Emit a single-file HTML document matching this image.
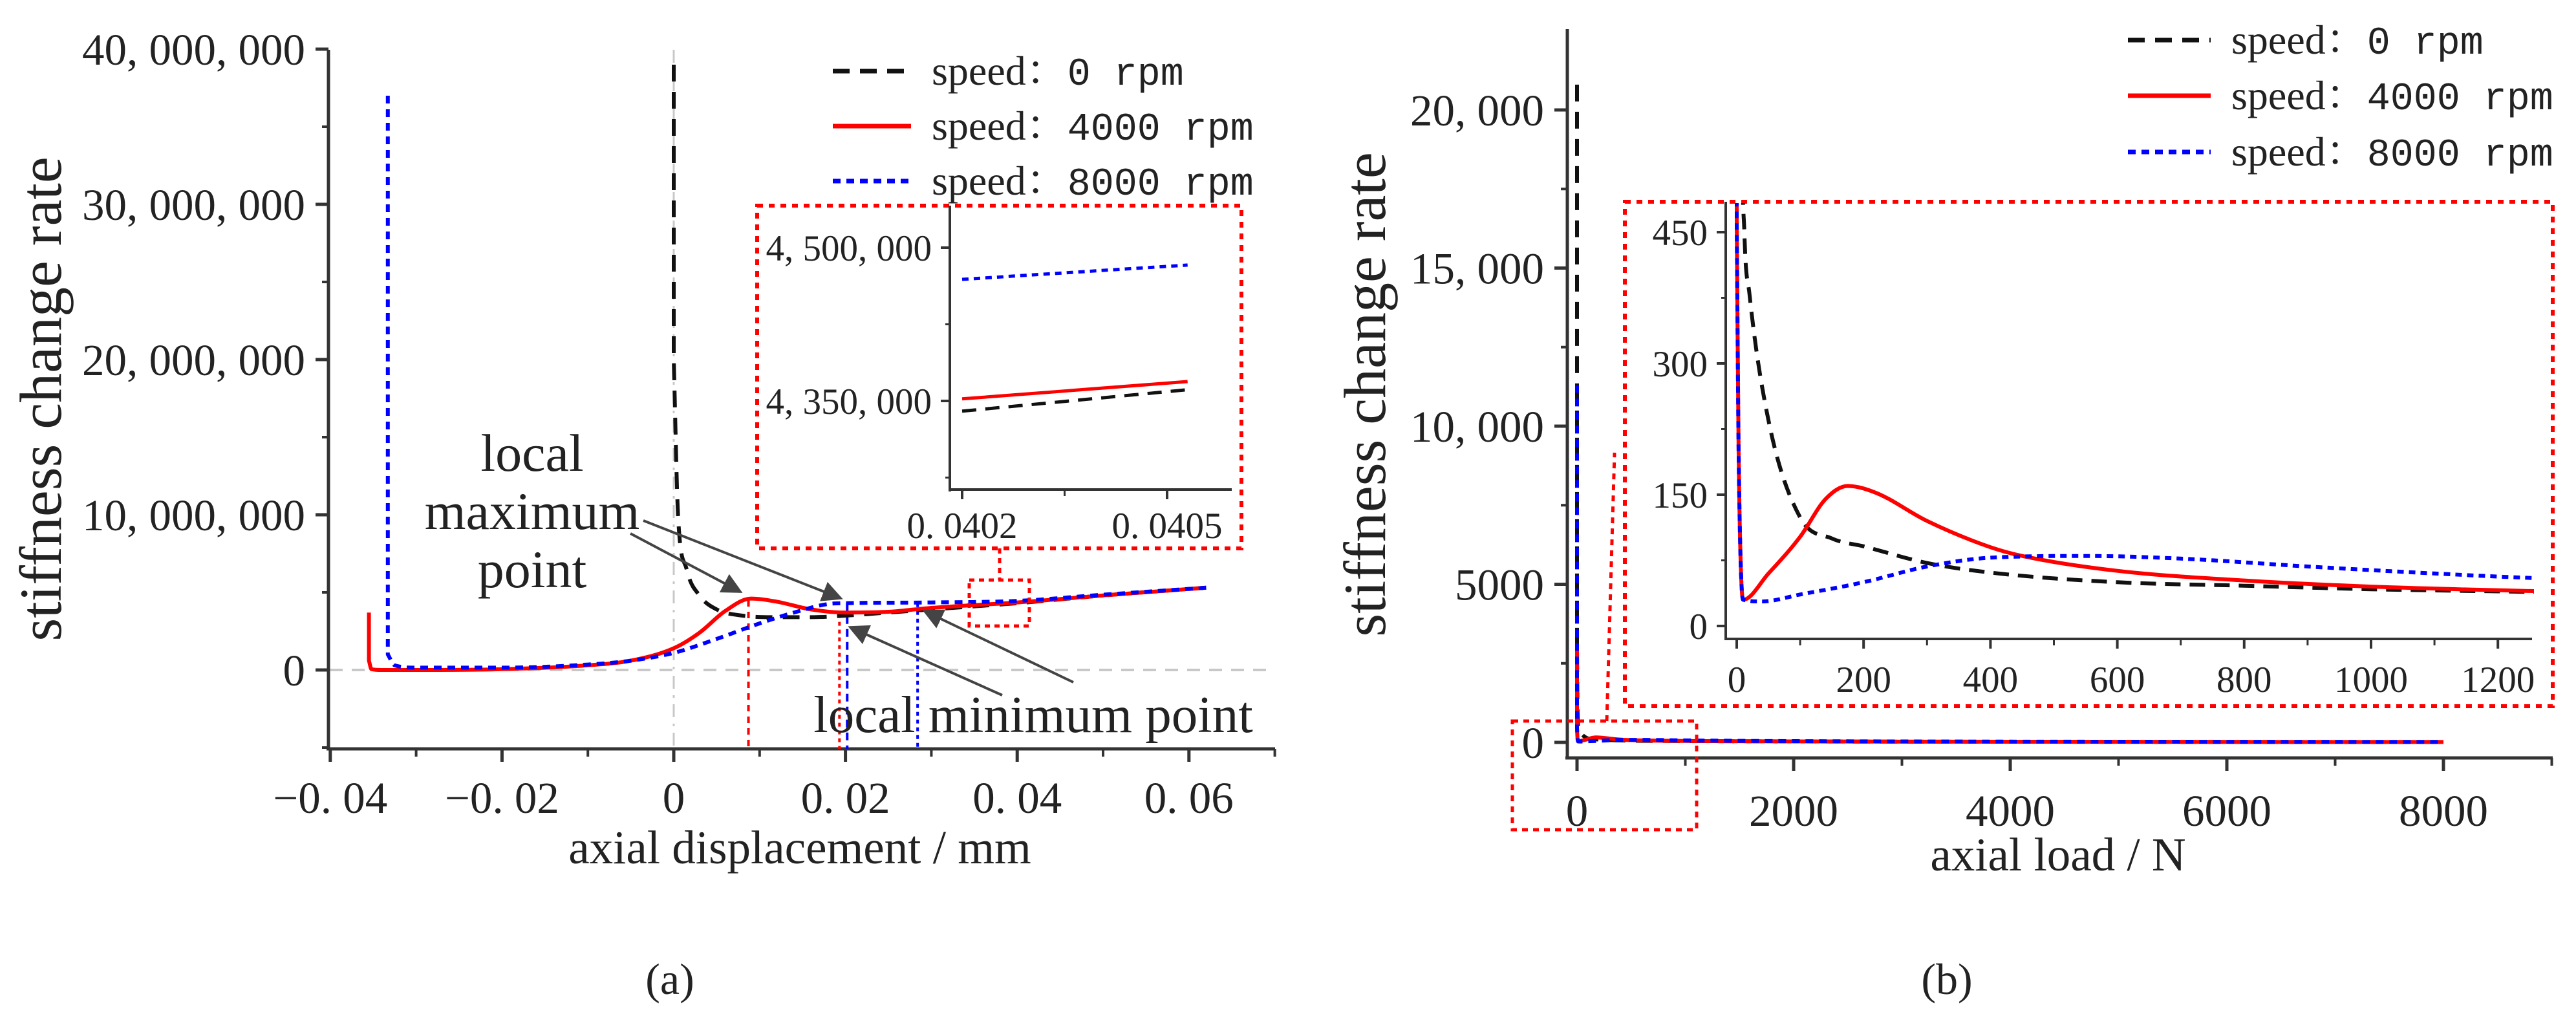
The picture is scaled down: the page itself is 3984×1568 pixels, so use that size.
<!DOCTYPE html>
<html><head><meta charset="utf-8">
<style>
html,body{margin:0;padding:0;background:#fff;}
svg{display:block;}
text{font-family:"Liberation Serif","Noto Serif CJK SC",serif;fill:#222;}
.mono{font-family:"Liberation Mono","Noto Sans CJK SC",monospace;}
</style></head>
<body>
<svg id="fig" width="3984" height="1568" viewBox="0 0 3984 1568" xmlns="http://www.w3.org/2000/svg">
<defs>
<clipPath id="clipAi"><rect x="1469" y="318" width="436" height="440"/></clipPath>
<clipPath id="clipBi"><rect x="2669" y="314" width="1250" height="676"/></clipPath>
<marker id="arr" markerWidth="8" markerHeight="8" refX="7" refY="4" orient="auto" markerUnits="strokeWidth">
<path d="M0,0 L8,4 L0,8 z" fill="#444"/></marker>
</defs>
<g id="gA"></g>
<g id="gB"></g>
</svg>
<script>
// ---- chart (a) data ----
const aBlackX=[0,0,0.0005,0.0015,0.003,0.005,0.008,0.012,0.016,0.02,0.025,0.03,0.035,0.04,0.05,0.062];
const aBlackY=[39e6,20e6,10e6,6.5e6,4.8e6,3.9e6,3.5e6,3.4e6,3.4e6,3.5e6,3.7e6,3.9e6,4.1e6,4.3e6,4.8e6,5.3e6];
const aRedX=[-0.0355,-0.0355,-0.0352,-0.034,-0.03,-0.02,-0.01,-0.005,0,0.003,0.006,0.009,0.012,0.016,0.02,0.025,0.03,0.04,0.05,0.062];
const aRedY=[3.7e6,0.6e6,0.05e6,0,0,0.05e6,0.3e6,0.6e6,1.4e6,2.4e6,3.8e6,4.6e6,4.4e6,3.9e6,3.7e6,3.75e6,4.0e6,4.35e6,4.8e6,5.3e6];
const aBlueX=[-0.0333,-0.0333,-0.0325,-0.03,-0.02,-0.01,-0.005,0,0.005,0.01,0.014,0.018,0.02,0.03,0.04,0.05,0.062];
const aBlueY=[37e6,1.0e6,0.3e6,0.15e6,0.15e6,0.35e6,0.6e6,1.1e6,2.0e6,3.0e6,3.7e6,4.25e6,4.3e6,4.35e6,4.45e6,4.85e6,5.3e6];
const aYTicks=[0,10e6,20e6,30e6,40e6];
const aYLabels=["0","10, 000, 000","20, 000, 000","30, 000, 000","40, 000, 000"];
const aXTicks=[-0.04,-0.02,0,0.02,0.04,0.06];
const aXLabels=["−0. 04","−0. 02","0","0. 02","0. 04","0. 06"];
// inset (a)
const aiX=[0.0402,0.04053];
const aiBlack=[4.340e6,4.361e6];
const aiRed=[4.352e6,4.369e6];
const aiBlue=[4.469e6,4.483e6];
const aiYTicks=[4.35e6,4.5e6];
const aiYLabels=["4, 350, 000","4, 500, 000"];
const aiXTicks=[0.0402,0.0405];
const aiXLabels=["0. 0402","0. 0405"];
// markers of local extrema
const aMarkX=[0.0087,0.0193,0.0202,0.0284];
const aMarkY=[4.5e6,3.6e6,4.3e6,4.3e6];
// ---- chart (b) data ----
const bBlackX=[0,0,3,8,12,20,50,100,150,200,300,400,600,800,1000,1250,2000,4000,6000,8000];
const bBlackY=[20800,3000,1500,600,450,380,235,124,100,91,72,61,50,46,42,39,30,20,15,12];
const bRedX=[0,0,3,10,50,100,140,175,220,300,400,450,600,800,1000,1250,2000,4000,8000];
const bRedY=[3000,460,200,30,60,102,145,160,152,120,90,80,63,52,45,40,30,20,12];
const bBlueX=[0,0,3,10,40,100,200,300,400,550,700,900,1100,1250,2000,4000,8000];
const bBlueY=[11300,460,200,30,28,36,50,68,78,80,77,68,60,55,40,25,15];
const bYTicks=[0,5000,10000,15000,20000];
const bYLabels=["0","5000","10, 000","15, 000","20, 000"];
const bXTicks=[0,2000,4000,6000,8000];
const bXLabels=["0","2000","4000","6000","8000"];
const biYTicks=[0,150,300,450];
const biYLabels=["0","150","300","450"];
const biXTicks=[0,200,400,600,800,1000,1200];
const biXLabels=["0","200","400","600","800","1000","1200"];

const NS="http://www.w3.org/2000/svg";
function mk(parent,tag,attrs,txt){const e=document.createElementNS(NS,tag);for(const k in attrs)e.setAttribute(k,attrs[k]);if(txt!==undefined)e.textContent=txt;parent.appendChild(e);return e;}
const xA=v=>1042+v/0.02*265.6, yA=v=>1036-v/1e7*240;
const xAi=v=>1488+(v-0.0402)/0.0003*317, yAi=v=>383-(v-4.5e6)/150000*237;
const xB=v=>2439+v/2000*335, yB=v=>1148-v/5000*244.5;
const xBi=v=>2686+v/200*196.2, yBi=v=>968-v/150*203;
const AX="#333";
const styles={black:{stroke:"#111",w:6,dash:"26 16"},red:{stroke:"#f00",w:6,dash:""},blue:{stroke:"#00f",w:6,dash:"12 9"}};
function smoothPath(X,Y){
 const n=X.length;const d=[];
 for(let i=0;i<n-1;i++){const dx=X[i+1]-X[i];d.push(dx>0.5?(Y[i+1]-Y[i])/dx:null);}
 const m=[];
 for(let i=0;i<n;i++){
  const a=i>0?d[i-1]:undefined,b=i<n-1?d[i]:undefined;
  let v;
  if(a===undefined)v=(b==null?0:b);
  else if(b===undefined)v=(a==null?0:a);
  else if(a==null)v=(b==null?0:b);
  else if(b==null)v=a;
  else if(a*b<=0)v=0;
  else{v=(a+b)/2;if(Math.abs(v)>3*Math.abs(a))v=3*a;if(Math.abs(v)>3*Math.abs(b))v=3*b;}
  m.push(v);}
 let s="M"+X[0].toFixed(1)+","+Y[0].toFixed(1);
 for(let i=0;i<n-1;i++){
  if(d[i]==null){s+=" L"+X[i+1].toFixed(1)+","+Y[i+1].toFixed(1);continue;}
  const h=X[i+1]-X[i];
  s+=" C"+(X[i]+h/3).toFixed(1)+","+(Y[i]+m[i]*h/3).toFixed(1)+" "+(X[i+1]-h/3).toFixed(1)+","+(Y[i+1]-m[i+1]*h/3).toFixed(1)+" "+X[i+1].toFixed(1)+","+Y[i+1].toFixed(1);}
 return s;}
function series(g,xs,ys,fx,fy,st,name,clip){
 const p=mk(g,"path",{d:smoothPath(xs.map(fx),ys.map(fy)),fill:"none",stroke:st.stroke,"stroke-width":st.w,"stroke-dasharray":st.dash,"stroke-linejoin":"round"});
 if(clip)p.setAttribute("clip-path","url(#"+clip+")");
 
 
}
function line(g,x1,y1,x2,y2,st,w,dash){return mk(g,"line",{x1,y1,x2,y2,stroke:st,"stroke-width":w,"stroke-dasharray":dash||""});}

// ===== chart A =====
const gA=document.getElementById("gA");
line(gA,510,yA(0),1972,yA(0),"#c8c8c8",4,"20 14");
line(gA,xA(0),77,xA(0),1158,"#c8c8c8",3,"20 10 4 10");
const axA=mk(gA,"g",{});


line(axA,508,77,508,1158,AX,5);
line(gA,505,1158,1972,1158,AX,5);
aYTicks.forEach((t,i)=>{line(gA,488,yA(t),508,yA(t),AX,5);
 const tx=mk(gA,"text",{x:472,y:yA(t)+24,"text-anchor":"end","font-size":69},aYLabels[i]);
 
 });
[-5e6,5e6,15e6,25e6,35e6].forEach(t=>line(gA,498,yA(t),508,yA(t),AX,4));
aXTicks.forEach((t,i)=>{line(gA,xA(t),1158,xA(t),1178,AX,5);
 const tx=mk(gA,"text",{x:xA(t),y:1257,"text-anchor":"middle","font-size":69},aXLabels[i]);
 
 });
[-0.03,-0.01,0.01,0.03,0.05,0.07].forEach(t=>line(gA,xA(t),1158,xA(t),1170,AX,4));
let t1=mk(gA,"text",{x:1237,y:1335,"text-anchor":"middle","font-size":73},"axial displacement / mm");

let t2=mk(gA,"text",{x:0,y:0,"text-anchor":"middle","font-size":92,transform:"translate(94,617) rotate(-90)"},"stiffness change rate");

let t3=mk(gA,"text",{x:1036,y:1537,"text-anchor":"middle","font-size":68},"(a)");

const mcol=["#f00","#f00","#00f","#00f"];const mdash=["10 8","6 6","12 8","6 6"];
aMarkX.forEach((m,i)=>{const l=line(gA,xA(m),yA(aMarkY[i]),xA(m),1158,mcol[i],4,mdash[i]);
 });
series(gA,aBlackX,aBlackY,xA,yA,styles.black,"series-0rpm-a");
series(gA,aRedX,aRedY,xA,yA,styles.red,"series-4000rpm-a");
series(gA,aBlueX,aBlueY,xA,yA,styles.blue,"series-8000rpm-a");
[["local",700],["maximum",790],["point",880]].forEach(([s,y])=>{const t=mk(gA,"text",{x:823,y:y+28,"text-anchor":"middle","font-size":82},s);
 });
let t4=mk(gA,"text",{x:1598,y:1132,"text-anchor":"middle","font-size":81},"local minimum point");

[[975,825,1145,915],[995,805,1300,925],[1550,1075,1315,970],[1660,1055,1430,945]].forEach(a=>{
 const l=mk(gA,"line",{x1:a[0],y1:a[1],x2:a[2],y2:a[3],stroke:"#444","stroke-width":4,"marker-end":"url(#arr)"});
 });
let r1=mk(gA,"rect",{x:1499,y:897,width:93,height:71,fill:"none",stroke:"#f00","stroke-width":5,"stroke-dasharray":"8 7"});

line(gA,1546,848,1546,897,"#f00",5,"8 7");
let r2=mk(gA,"rect",{x:1171,y:318,width:749,height:530,fill:"#fff",stroke:"#f00","stroke-width":6,"stroke-dasharray":"9 9"});

line(gA,1469,318,1469,760,AX,4);line(gA,1467,757,1905,757,AX,4);
aiYTicks.forEach((t,i)=>{line(gA,1455,yAi(t),1469,yAi(t),AX,4);
 const tx=mk(gA,"text",{x:1441,y:yAi(t)+20,"text-anchor":"end","font-size":57},aiYLabels[i]);
 });
[4.425e6,4.275e6].forEach(t=>line(gA,1462,yAi(t),1469,yAi(t),AX,3));
aiXTicks.forEach((t,i)=>{line(gA,xAi(t),757,xAi(t),772,AX,4);
 const tx=mk(gA,"text",{x:xAi(t),y:832,"text-anchor":"middle","font-size":57},aiXLabels[i]);
 });
line(gA,xAi(0.04035),757,xAi(0.04035),767,AX,3);
series(gA,aiX,aiBlack,xAi,yAi,{stroke:"#111",w:5,dash:"22 14"},"inset-0rpm-a","clipAi");
series(gA,aiX,aiRed,xAi,yAi,{stroke:"#f00",w:5,dash:""},"inset-4000rpm-a","clipAi");
series(gA,aiX,aiBlue,xAi,yAi,{stroke:"#00f",w:5,dash:"10 8"},"inset-8000rpm-a","clipAi");
const legA=[["0 rpm",styles.black,110],["4000 rpm",styles.red,195],["8000 rpm",styles.blue,280]];
legA.forEach(([s,st,y])=>{const g=mk(gA,"g",{});
 
 line(g,1288,y,1409,y,st.stroke,7,st.dash);
 const t=mk(g,"text",{x:1441,y:y+21,"font-size":64});
 mk(t,"tspan",{},"speed：");mk(t,"tspan",{class:"mono","font-size":60},s);});

// ===== chart B =====
const gB=document.getElementById("gB");
line(gB,2424,45,2424,1172,AX,5);line(gB,2421,1172,3948,1172,AX,5);
bYTicks.forEach((t,i)=>{line(gB,2404,yB(t),2424,yB(t),AX,5);
 const tx=mk(gB,"text",{x:2388,y:yB(t)+24,"text-anchor":"end","font-size":69},bYLabels[i]);
 });
[2500,7500,12500,17500].forEach(t=>line(gB,2414,yB(t),2424,yB(t),AX,4));
bXTicks.forEach((t,i)=>{line(gB,xB(t),1172,xB(t),1192,AX,5);
 const tx=mk(gB,"text",{x:xB(t),y:1277,"text-anchor":"middle","font-size":69},bXLabels[i]);
 });
[1000,3000,5000,7000,9000].forEach(t=>line(gB,xB(t),1172,xB(t),1184,AX,4));
let u1=mk(gB,"text",{x:3183,y:1346,"text-anchor":"middle","font-size":73},"axial load / N");

let u2=mk(gB,"text",{x:0,y:0,"text-anchor":"middle","font-size":92,transform:"translate(2142,610) rotate(-90)"},"stiffness change rate");

let u3=mk(gB,"text",{x:3011,y:1537,"text-anchor":"middle","font-size":68},"(b)");

series(gB,bBlackX,bBlackY,xB,yB,styles.black,"series-0rpm-b");
series(gB,bRedX,bRedY,xB,yB,styles.red,"series-4000rpm-b");
series(gB,bBlueX,bBlueY,xB,yB,styles.blue,"series-8000rpm-b");
let r3=mk(gB,"rect",{x:2339,y:1115,width:285,height:168,fill:"none",stroke:"#f00","stroke-width":5,"stroke-dasharray":"9 8"});

line(gB,2485,1115,2497,700,"#f00",5,"9 8");
let r4=mk(gB,"rect",{x:2513,y:312,width:1435,height:780,fill:"#fff",stroke:"#f00","stroke-width":6,"stroke-dasharray":"9 9"});

line(gB,2669,312,2669,990,AX,4);line(gB,2667,988,3916,988,AX,4);
biYTicks.forEach((t,i)=>{line(gB,2655,yBi(t),2669,yBi(t),AX,4);
 const tx=mk(gB,"text",{x:2641,y:yBi(t)+20,"text-anchor":"end","font-size":57},biYLabels[i]);
 });
[75,225,375].forEach(t=>line(gB,2662,yBi(t),2669,yBi(t),AX,3));
biXTicks.forEach((t,i)=>{line(gB,xBi(t),988,xBi(t),1003,AX,4);
 const tx=mk(gB,"text",{x:xBi(t),y:1070,"text-anchor":"middle","font-size":57},biXLabels[i]);
 });
[100,300,500,700,900,1100].forEach(t=>line(gB,xBi(t),988,xBi(t),998,AX,3));
series(gB,bBlackX,bBlackY,xBi,yBi,{stroke:"#111",w:6,dash:"24 14"},"inset-0rpm-b","clipBi");
series(gB,bRedX,bRedY,xBi,yBi,{stroke:"#f00",w:6,dash:""},"inset-4000rpm-b","clipBi");
series(gB,bBlueX,bBlueY,xBi,yBi,{stroke:"#00f",w:6,dash:"10 8"},"inset-8000rpm-b","clipBi");
const legB=[["0 rpm",styles.black,62],["4000 rpm",styles.red,148],["8000 rpm",styles.blue,235]];
legB.forEach(([s,st,y])=>{const g=mk(gB,"g",{});
 
 line(g,3291,y,3419,y,st.stroke,7,st.dash);
 const t=mk(g,"text",{x:3451,y:y+21,"font-size":64});
 mk(t,"tspan",{},"speed：");mk(t,"tspan",{class:"mono","font-size":60},s);});
</script>
</body></html>
